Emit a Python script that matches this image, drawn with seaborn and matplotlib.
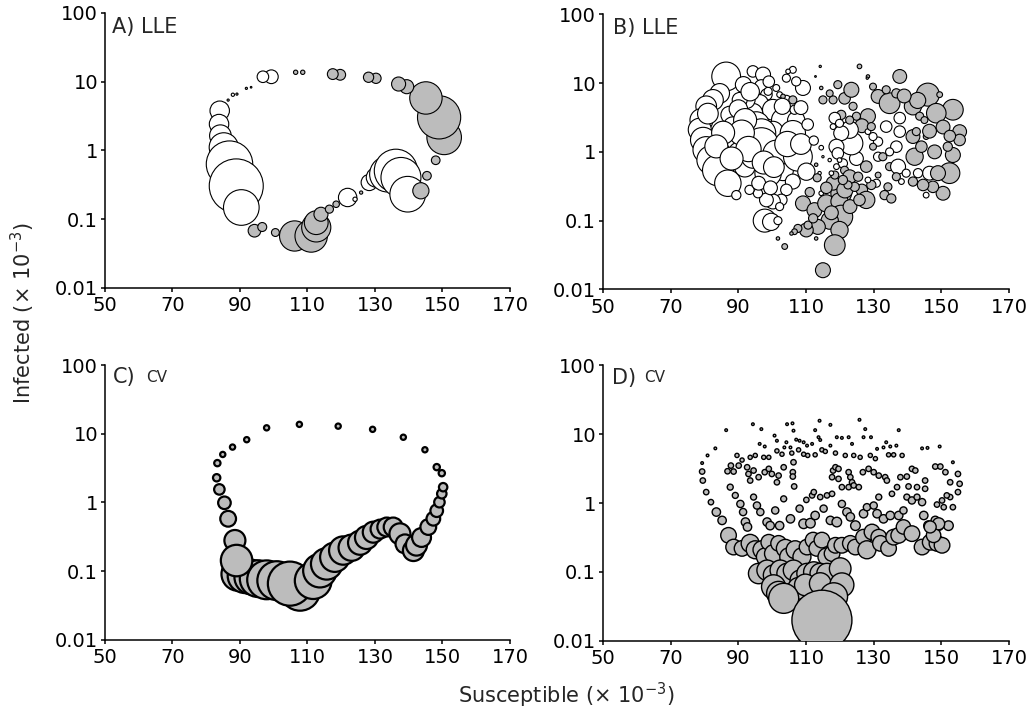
import numpy as np
import pandas as pd
import seaborn as sns
import matplotlib.pyplot as plt
from matplotlib.ticker import FixedLocator, FixedFormatter, NullLocator

sns.set_theme(style="ticks")
plt.rcParams["font.family"] = ["DejaVu Sans"]
plt.rcParams["mathtext.fontset"] = "dejavusans"

# ---------------------------------------------------------------- data
# Each panel: susceptible (x 1e-3), infected (x 1e-3), circle diameter
# (magnitude of the local statistic), and sign (W = positive / open,
# G = negative / shaded).

# A) LLE along the deterministic attractor
a_S = [84.0, 83.8, 84.2, 85.2, 86.9, 88.9, 90.4,
       94.3, 96.6, 100.5, 106.2, 111.1, 112.6, 112.6, 114.0, 116.5, 118.5,
       121.9, 124.1, 125.9, 128.3, 130.3, 133.7, 136.2, 137.7, 139.7,
       143.6, 145.4, 148.0, 150.5, 149.0, 145.1, 139.4, 137.0, 130.3, 128.1,
       119.7, 117.5, 108.6, 106.5, 99.3, 96.8, 93.3, 91.9, 89.1, 87.9, 86.5]
a_I = [3.78, 2.42, 1.64, 1.11, 0.632, 0.305, 0.148,
       0.068, 0.077, 0.064, 0.057, 0.057, 0.076, 0.089, 0.118, 0.14, 0.165,
       0.207, 0.195, 0.244, 0.342, 0.405, 0.452, 0.506, 0.405, 0.231,
       0.259, 0.428, 0.72, 1.55, 3.03, 5.8, 8.46, 9.25, 11.2, 11.6,
       12.6, 12.9, 13.7, 13.7, 11.8, 11.8, 8.3, 8.0, 6.6, 6.46, 5.4]
a_mag = [18, 18, 20, 27, 43, 50, 33,
         11.7, 8.3, 7.3, 28, 30, 27, 22, 13, 7.5, 6,
         17, 4, 3, 15, 18, 33, 40, 37, 33,
         15, 8, 8, 32, 40, 30, 13, 13, 9.5, 9.5,
         10, 10, 4, 4, 12.7, 10.7, 1.5, 2, 2, 3, 2]
a_sign = list("WWWWWWW" "GGGGGGGGGG" "WWGWWWWWW" "GGGGGGGGGG" "GGGGWWGGGWG")

# B) LLE on the stochastic trajectory
b_S = [86.4, 84.5, 82.5, 80.5, 79.1, 78.6, 79.6, 80.5, 82.0, 84.0,
       86.9, 89.4, 87.4, 88.4, 89.4, 90.4, 91.9, 94.3, 97.3, 96.8,
       98.3, 96.3, 94.3, 92.4, 90.4, 100.2, 103.2, 100.2, 93.3, 94.3,
       103.2, 107.1, 95.3, 96.8, 96.8, 98.8, 101.2, 106.1, 107.6, 110.1,
       106.1, 104.2, 102.7, 100.2, 98.3, 95.8, 93.3, 97.8, 99.7, 101.7,
       102.2, 109.1, 107.1, 104.2, 106.1, 104.7, 101.2, 98.8, 102.2, 104.2,
       106.6, 106.1, 103.2,
       91.5, 93.5, 90.0, 92.0, 91.0, 93.0, 97.5, 100.5, 104.5, 108.5,
       103.0, 99.0, 85.5, 83.5, 81.0, 88.0, 96.0, 99.5, 108.5, 110.5,
       112.3, 114.5, 115.0, 113.0, 114.0, 113.3, 114.5, 111.1, 109.1, 112.5,
       116.0, 120.4, 119.9, 118.0, 120.4, 117.0, 119.9, 118.5, 115.0, 113.5,
       110.1, 107.6, 106.6, 105.7, 103.7, 101.7, 113.0, 110.6, 112.1,
       115.0, 118.0, 119.4, 117.0, 121.4, 123.4, 125.8, 128.3, 123.9, 120.4,
       118.5, 128.3, 131.3, 134.7, 137.7, 133.7, 129.8, 136.7, 141.6, 146.0,
       143.6, 145.0, 149.5, 153.4, 148.5, 155.4, 155.4, 153.4, 151.9, 152.4,
       150.5, 147.5, 145.5, 146.5, 149.0, 143.1, 142.1, 144.1, 141.6, 142.6,
       145.5,
       126.5, 148.0, 146.5, 150.5, 152.5, 143.0, 139.0, 123.0, 117.5, 121.5,
       116.0, 126.5,
       137.7, 133.7, 137.7, 136.7, 134.7, 131.3, 129.8, 131.3, 132.7, 134.7,
       137.2, 139.6, 141.6, 144.6, 138.2, 136.7, 134.2, 133.2, 135.2, 130.8,
       129.3, 127.8, 125.8, 127.8, 124.9, 123.4, 122.9, 120.4, 119.0, 119.4,
       120.9, 121.4, 122.9, 125.4, 124.4, 122.4, 120.9, 118.5, 119.0, 119.9,
       117.5, 117.0, 128.3, 129.3, 124.9, 122.9, 119.9, 118.0, 129.8, 131.3,
       128.3, 114.2, 112.8, 114.5, 128.1]
b_I = [12.5, 7.1, 5.7, 4.6, 2.9, 2.1, 1.49, 1.07, 0.76, 0.54,
       0.35, 0.235, 3.45, 2.33, 1.49, 0.95, 0.61, 14.8, 13.3, 8.9,
       6.8, 5.1, 3.65, 5.7, 5.7, 4.1, 2.9, 1.97, 1.49, 0.85,
       0.54, 2.9, 2.46, 1.87, 1.26, 0.49, 0.95, 1.87, 0.85, 0.515,
       0.37, 0.28, 0.2, 0.19, 0.2, 0.25, 0.28, 0.10, 0.096, 0.1,
       0.16, 8.5, 10.6, 11.8, 15.6, 14.8, 8.5, 7.6, 6.8, 5.7,
       4.1, 5.7, 6.4,
       9.5, 7.5, 4.2, 2.9, 1.9, 1.1, 0.7, 0.6, 1.3, 1.3,
       4.6, 10.5, 1.9, 1.2, 3.6, 0.8, 0.35, 0.3, 4.4, 2.5,
       1.46, 1.15, 0.85, 0.65, 0.49, 0.42, 0.25, 0.26, 0.178, 0.142,
       0.178, 0.25, 0.19, 0.35, 0.114, 0.10, 0.073, 0.044, 0.019, 0.081,
       0.073, 0.077, 0.069, 0.065, 0.042, 0.055, 0.055, 0.086, 0.108,
       5.7, 5.7, 9.5, 7.1, 6.0, 8.0, 17.5, 12.5, 4.6, 3.45,
       3.1, 3.3, 6.4, 5.1, 12.5, 8.0, 8.9, 7.1, 4.6, 6.8,
       3.3, 2.9, 6.8, 4.1, 3.65, 1.97, 1.49, 0.9, 1.19, 0.49,
       0.25, 0.31, 0.235, 0.49, 0.49, 0.49, 0.85, 1.19, 1.67, 1.97,
       1.67,
       2.4, 1.0, 2.0, 2.3, 1.7, 5.6, 6.5, 0.16, 0.13, 0.28,
       0.3, 0.28,
       3.1, 2.33, 1.97, 1.19, 1.0, 1.41, 1.67, 0.85, 0.85, 0.61,
       0.61, 0.49, 0.37, 0.33, 0.37, 0.435, 0.31, 0.235, 0.21, 0.35,
       0.33, 0.2, 0.2, 0.61, 0.8, 1.33, 2.1, 1.87, 1.19, 0.95,
       0.68, 0.54, 0.435, 0.435, 0.31, 0.33, 0.39, 0.46, 0.61, 0.76,
       0.49, 0.76, 1.97, 2.33, 3.3, 2.9, 2.6, 2.33, 1.19, 0.46,
       0.39, 17.5, 12.5, 8.5, 11.8]
b_mag = [25, 17, 18, 18, 20, 20, 22, 23, 25, 27,
         23, 8, 15, 17, 18, 20, 18, 10, 13, 12,
         10, 15, 17, 15, 13, 18, 20, 18, 18, 20,
         18, 15, 23, 25, 30, 23, 23, 22, 25, 15,
         13, 10, 10, 13, 12, 8, 8, 20, 15, 7,
         7, 13, 8, 7, 6, 4, 6, 7, 5, 8,
         8, 7, 4,
         14, 16, 16, 20, 22, 22, 20, 18, 22, 18,
         14, 10, 20, 20, 18, 20, 12, 12, 12, 10,
         8, 4, 2, 3, 3, 7, 4, 8, 13, 13,
         15, 18, 15, 12, 20, 15, 15, 18, 13, 13,
         12, 7, 5, 3, 5, 3, 3, 7, 8,
         7, 7, 7, 6, 10, 13, 4, 3, 7, 8,
         10, 13, 12, 18, 12, 7, 6, 8, 15, 20,
         7, 6, 5, 18, 17, 12, 10, 13, 8, 18,
         12, 10, 5, 12, 13, 8, 15, 10, 12, 7,
         5,
         12, 12, 12, 12, 10, 14, 12, 12, 12, 14,
         10, 10,
         10, 10, 10, 10, 7, 8, 7, 8, 7, 7,
         13, 7, 8, 10, 5, 7, 7, 8, 8, 7,
         8, 15, 10, 10, 12, 20, 15, 13, 13, 10,
         8, 7, 12, 8, 8, 7, 8, 7, 5, 4,
         4, 3, 5, 7, 7, 7, 7, 5, 6, 5,
         5, 2, 1.5, 3, 2]
b_sign = list("W" * 61 + "GG"
              + "W" * 20
              + "WWWGWGW" + "G" * 22
              + "G" * 10 + "W" + "G" * 21 + "WWGW" + "G" * 5
              + "G" * 12
              + "W" * 8 + "GG" + "WW" + "GG" + "W" + "G" * 4 + "W" + "G" * 4
              + "W" * 7 + "G" * 7 + "W" * 5 + "GGG" + "WW" + "GG" + "W"
              + "G" * 4)

# C) CV along the deterministic attractor
c_S = [89.5, 91.5, 93.5, 95.4, 97.9, 100.9, 107.8, 104.8, 111.7, 113.7,
       115.7, 118.1, 120.6, 123.1, 125.6, 127.5, 129.5, 131.5, 133.5, 135.4,
       137.4, 138.9, 141.4, 142.3, 143.8, 145.8, 147.3, 148.3, 149.1, 149.8,
       150.2, 149.8, 148.3, 144.8, 138.4, 129.3, 119.1, 107.6, 97.9, 92.0,
       87.8, 84.9, 83.3, 83.1, 83.9, 85.4, 86.5, 88.5, 89.0]
c_I = [0.091, 0.086, 0.082, 0.078, 0.075, 0.073, 0.052, 0.066, 0.073, 0.102,
       0.128, 0.16, 0.2, 0.22, 0.26, 0.31, 0.37, 0.41, 0.44, 0.44,
       0.35, 0.25, 0.2, 0.24, 0.31, 0.44, 0.58, 0.76, 1.01, 1.34,
       1.67, 2.67, 3.27, 5.85, 8.9, 11.6, 12.9, 13.7, 12.2, 8.2,
       6.4, 5.0, 3.74, 2.29, 1.55, 0.99, 0.58, 0.28, 0.143]
c_mag = [32, 33, 33, 35, 37, 37, 38, 42, 35, 32,
         30, 28, 27, 25, 23, 22, 20, 18, 18, 18,
         20, 18, 20, 20, 18, 15, 13, 12, 10, 9,
         8, 6, 6, 5, 5, 5, 5, 5, 5, 5,
         5, 5, 6, 7, 10, 12, 15, 20, 30]

# D) CV on the stochastic trajectory
d_S = [86.4, 94.3, 96.8, 100.7, 101.4, 96.3, 97.8, 104.4, 106.0, 106.3,
       104.2, 103.6, 105.4, 107.1, 108.1, 109.3, 110.3, 111.8, 112.7, 114.0,
       113.7, 114.2, 117.2, 117.2, 119.1, 120.6, 122.6, 123.6, 125.8, 127.5,
       127.0, 129.2, 131.0, 132.9, 133.7, 134.9, 136.7, 137.4, 144.3, 145.9,
       149.5, 153.4, 83.2, 80.9, 79.3,
       89.6, 91.1, 93.5, 95.0, 97.5, 99.0, 101.4, 102.9, 105.8, 107.8,
       109.3, 110.5, 112.7, 114.7, 115.7, 118.7, 121.6, 124.1, 126.0, 129.0,
       130.5, 134.4, 135.9, 138.4,
       79.3, 79.5, 80.5, 81.9, 86.8, 87.8, 88.6, 90.1, 92.6, 93.0,
       93.5, 94.5, 96.0, 97.8, 99.0, 99.9, 101.4, 101.9, 103.4, 106.1,
       106.1, 106.5, 106.3, 110.1, 111.8, 112.3, 114.2, 116.2, 117.7, 118.0,
       118.7, 119.6, 117.7, 119.6, 120.6, 122.6, 123.1, 123.6, 122.6, 124.1,
       125.6, 126.8, 128.5, 130.0, 131.5, 133.4, 133.9, 135.4, 136.9, 137.9,
       139.8, 140.3, 141.3, 142.3, 142.8, 145.2, 145.2, 148.2, 149.7, 151.2,
       152.6, 154.9, 155.4, 154.9, 152.6, 151.6, 150.2, 148.7, 150.7, 153.4,
       83.5, 85.2, 87.6, 89.1, 90.6, 91.4, 92.1, 92.7, 94.5, 95.5,
       96.5, 98.5, 99.4, 100.9, 102.2, 103.4, 105.4, 108.1, 109.3, 111.3,
       112.7, 115.2, 117.2, 119.1, 120.6, 122.1, 123.1, 124.6, 127.0, 128.0,
       130.0, 131.0, 131.5, 132.9, 134.9, 137.4, 138.8, 139.8, 141.3, 142.8,
       144.3, 144.8, 146.2, 148.2, 149.2, 152.1,
       87.1, 88.6, 91.1, 93.5, 95.0, 97.0, 98.0, 99.0, 100.4, 101.9,
       103.9, 104.9, 106.8, 108.8, 110.3, 112.1, 113.2, 114.7, 116.2, 117.7,
       118.7, 120.6, 123.1, 124.6, 127.0, 128.0, 129.5, 131.5, 132.0, 134.4,
       135.9, 137.4, 138.8, 141.3, 144.3, 146.7, 148.7, 150.2, 147.7, 149.2,
       146.7,
       96.0, 98.5, 100.4, 102.4, 104.4, 106.3, 108.3, 110.3, 112.3, 114.2,
       116.2, 120.1, 100.4, 101.9, 107.8, 109.8, 114.2, 120.6, 103.4, 118.2,
       114.7]
d_I = [11.4, 13.9, 11.8, 9.5, 8.0, 7.2, 6.6, 13.9, 14.3, 11.2,
       7.6, 6.4, 6.4, 8.3, 8.0, 7.6, 6.8, 7.2, 11.4, 15.6,
       9.0, 8.2, 13.6, 6.8, 9.0, 8.8, 9.0, 7.2, 16.1, 11.8,
       9.0, 9.0, 6.1, 6.4, 7.6, 6.6, 6.8, 11.4, 6.2, 6.3,
       6.6, 3.9, 6.2, 4.9, 3.8,
       4.9, 4.2, 4.6, 4.9, 4.6, 4.6, 5.7, 5.1, 5.3, 5.9,
       5.1, 4.9, 5.0, 5.9, 5.6, 5.3, 4.9, 4.9, 4.6, 4.9,
       4.4, 5.0, 5.0, 4.9,
       2.86, 2.12, 1.44, 1.03, 2.89, 3.49, 2.86, 3.49, 3.3, 2.64,
       2.12, 2.96, 2.37, 2.8, 3.13, 2.64, 2.0, 2.5, 3.3, 2.8,
       2.42, 1.74, 3.9, 1.11, 1.29, 1.44, 1.22, 1.29, 1.36, 2.96,
       3.3, 3.13, 2.37, 2.24, 1.7, 2.8, 2.37, 2.0, 1.7, 1.8,
       1.7, 2.8, 3.13, 2.8, 2.5, 2.37, 2.12, 1.36, 1.7, 2.37,
       2.42, 1.74, 3.13, 2.96, 1.7, 2.12, 1.61, 3.38, 3.38, 2.8,
       2.0, 2.64, 1.9, 1.44, 1.22, 1.29, 1.09, 0.95, 0.87, 0.87,
       0.74, 0.56, 1.7, 1.29, 0.97, 0.74, 0.53, 0.45, 1.22, 0.92,
       0.74, 0.53, 0.47, 0.78, 0.47, 1.15, 0.59, 0.83, 0.5, 0.51,
       0.66, 0.83, 0.56, 0.53, 0.97, 0.74, 0.63, 0.47, 0.7, 0.87,
       0.92, 0.7, 1.22, 0.59, 0.66, 0.66, 0.78, 1.22, 1.09, 1.22,
       1.03, 0.66, 0.47, 0.56, 0.47, 0.47,
       0.34, 0.23, 0.22, 0.26, 0.21, 0.21, 0.166, 0.27, 0.185, 0.26,
       0.22, 0.166, 0.21, 0.166, 0.23, 0.29, 0.22, 0.29, 0.166, 0.185,
       0.244, 0.244, 0.26, 0.23, 0.32, 0.21, 0.38, 0.32, 0.26, 0.22,
       0.32, 0.34, 0.45, 0.36, 0.23, 0.27, 0.26, 0.244, 0.34, 0.5,
       0.45,
       0.095, 0.106, 0.09, 0.106, 0.095, 0.106, 0.076, 0.095, 0.1, 0.095,
       0.095, 0.112, 0.061, 0.049, 0.058, 0.065, 0.068, 0.065, 0.0415, 0.044,
       0.02]
d_mag = ([2.2] * 45 + [3.5] * 24 + [4.5] * 70 +
         [7, 7, 5, 5, 6, 6, 7, 7, 5, 6, 6, 7, 7, 6, 7, 5, 7, 6, 8, 8,
          7, 6, 7, 8, 6, 7, 7, 8, 7, 6, 6, 7, 5, 7, 7, 7, 6, 5, 6, 5,
          6, 7, 8, 7, 8, 8] +
         [13, 13, 13, 15, 15, 15, 15, 13, 15, 13, 15, 15, 15, 15, 13, 13,
          13, 13, 15, 13, 13, 13, 13, 13, 13, 15, 13, 13, 13, 13, 13, 13,
          12, 13, 13, 13, 13, 13, 12, 10, 10] +
         [17, 17, 17, 17, 17, 17, 17, 17, 17, 17, 17, 18, 20, 20, 18, 18,
          18, 20, 25, 23, 50])

# ---------------------------------------------------------------- style
FILL = {"W": "white", "G": "#bcbcbc"}
PX_TO_PT = 72.0 / 100.0


def frame(S, I, mag, sign, scale):
    df = pd.DataFrame({"S": S, "I": I, "mag": mag, "sign": sign})
    df["area"] = (df["mag"] * scale * PX_TO_PT) ** 2
    return df


def draw(ax, df, lw):
    lo, hi = df["area"].min(), df["area"].max()
    sns.scatterplot(data=df, x="S", y="I", hue="sign", palette=FILL,
                    size="area", sizes=(lo, hi), size_norm=(lo, hi),
                    edgecolor="black", linewidth=lw, legend=False, ax=ax,
                    zorder=3)


def style_axes(ax):
    ax.set_yscale("log")
    ax.set_xlim(50, 170)
    ax.set_ylim(0.01, 100)
    ax.xaxis.set_major_locator(FixedLocator([50, 70, 90, 110, 130, 150, 170]))
    ax.yaxis.set_major_locator(FixedLocator([0.01, 0.1, 1, 10, 100]))
    ax.yaxis.set_major_formatter(FixedFormatter(["0.01", "0.1", "1", "10", "100"]))
    ax.yaxis.set_minor_locator(NullLocator())
    ax.set_xlabel("")
    ax.set_ylabel("")
    for side in ("top", "right"):
        ax.spines[side].set_visible(False)
    for side in ("left", "bottom"):
        ax.spines[side].set_linewidth(1.1)
        ax.spines[side].set_color("black")
    ax.tick_params(axis="both", direction="out", length=3, width=1.1,
                   colors="black", labelsize=14)
    ax.tick_params(axis="x", pad=3)
    ax.tick_params(axis="y", pad=2)


fig = plt.figure(figsize=(10.29, 7.11), dpi=100)
axA = fig.add_axes([0.102, 0.595, 0.3936, 0.3868])
axB = fig.add_axes([0.586, 0.593, 0.3946, 0.3868])
axC = fig.add_axes([0.102, 0.0999, 0.3936, 0.3867])
axD = fig.add_axes([0.586, 0.0985, 0.3946, 0.3880])

draw(axA, frame(a_S, a_I, a_mag, a_sign, 1.08), 0.8)
draw(axB, frame(b_S, b_I, b_mag, b_sign, 1.15), 0.8)
draw(axC, frame(c_S, c_I, c_mag, ["G"] * len(c_S), 1.05), 1.6)
draw(axD, frame(d_S, d_I, d_mag, ["G"] * len(d_S), 1.2), 1.0)

for ax in (axA, axB, axC, axD):
    style_axes(ax)

axA.text(0.017, 0.95, "A) LLE", transform=axA.transAxes, fontsize=15, va="center")
axB.text(0.025, 0.95, "B) LLE", transform=axB.transAxes, fontsize=15, va="center")
axC.text(0.020, 0.955, "C)", transform=axC.transAxes, fontsize=15, va="center")
axC.text(0.101, 0.955, "CV", transform=axC.transAxes, fontsize=11, va="center")
axD.text(0.022, 0.955, "D)", transform=axD.transAxes, fontsize=15, va="center")
axD.text(0.101, 0.955, "CV", transform=axD.transAxes, fontsize=11, va="center")

fig.text(0.551, 0.0225, r"Susceptible ($\times$ 10$^{-3}$)", ha="center",
         va="center", fontsize=15)
fig.text(0.0224, 0.56, r"Infected ($\times$ 10$^{-3}$)", ha="center",
         va="center", rotation=90, fontsize=15)

fig.savefig("out.png", dpi=100)
